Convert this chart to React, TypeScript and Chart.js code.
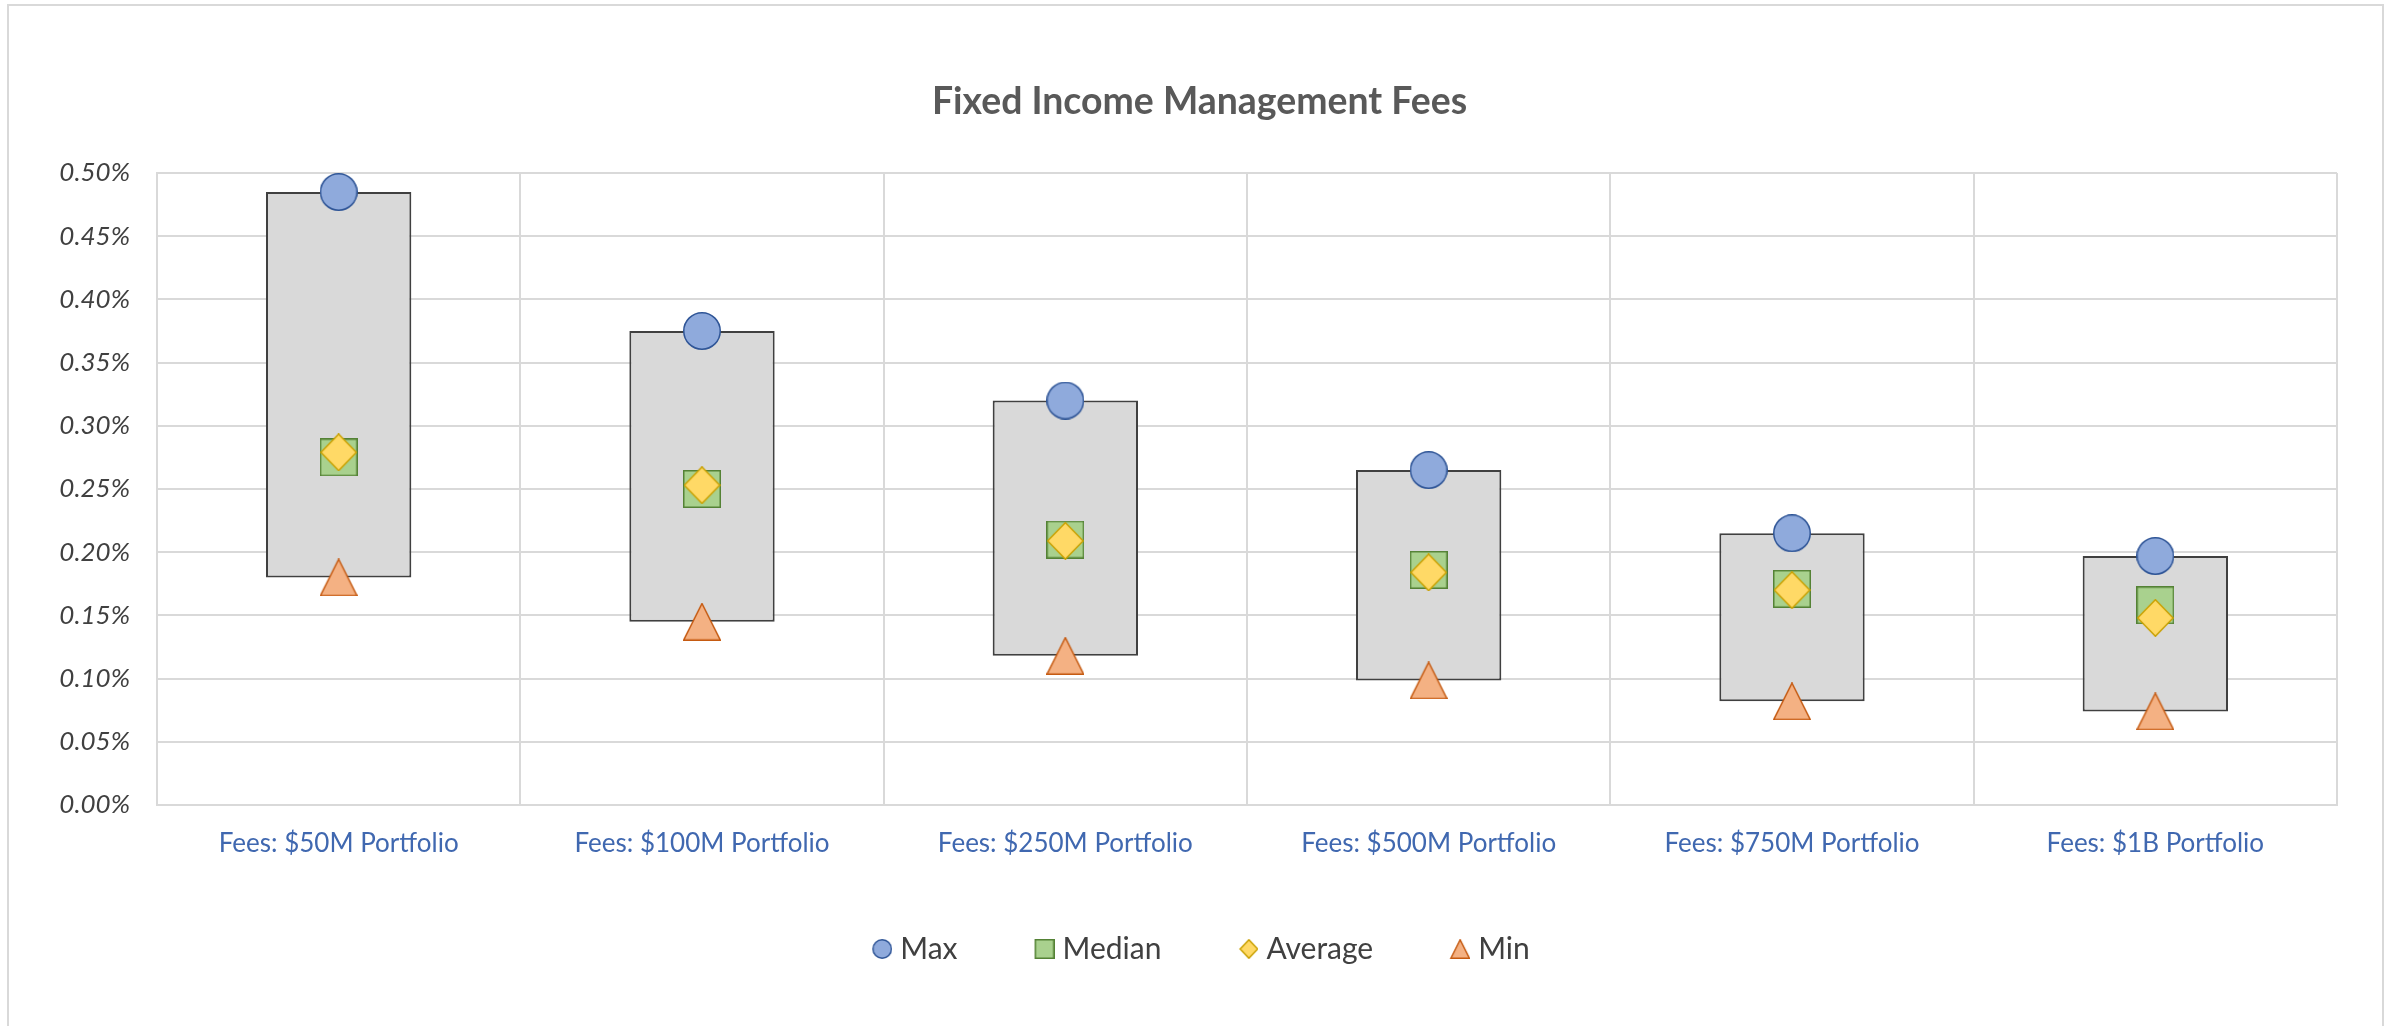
import React, { useEffect, useRef } from "react";
import { Chart, registerables } from "chart.js";

Chart.register(...registerables);

// ---- Data (values in percent) ----
const categories = [
  "Fees: $50M Portfolio",
  "Fees: $100M Portfolio",
  "Fees: $250M Portfolio",
  "Fees: $500M Portfolio",
  "Fees: $750M Portfolio",
  "Fees: $1B Portfolio",
];
const maxValues = [0.485, 0.375, 0.32, 0.265, 0.215, 0.197];
const medianValues = [0.275, 0.25, 0.21, 0.186, 0.171, 0.158];
const averageValues = [0.279, 0.253, 0.209, 0.184, 0.17, 0.148];
const minValues = [0.18, 0.145, 0.118, 0.0985, 0.082, 0.074];
const seriesNames = ["Max", "Median", "Average", "Min"];
const yMin = 0;
const yMax = 0.5;
const yStep = 0.05;

type Shape = "circle" | "square" | "diamond" | "triangle";

function makeMarker(
  shape: Shape,
  w: number,
  h: number,
  fill: string,
  stroke: string,
  lineWidth: number,
  padLeft = 0
): HTMLCanvasElement {
  const c = document.createElement("canvas");
  c.width = Math.round(w + padLeft);
  c.height = h;
  const ctx = c.getContext("2d")!;
  ctx.fillStyle = fill;
  ctx.strokeStyle = stroke;
  ctx.lineWidth = lineWidth;
  ctx.lineJoin = "miter";
  const lw = lineWidth / 2;
  const x0 = padLeft + lw;
  const y0 = lw;
  const x1 = padLeft + w - lw;
  const y1 = h - lw;
  const cx = (x0 + x1) / 2;
  const cy = (y0 + y1) / 2;
  ctx.beginPath();
  if (shape === "circle") {
    ctx.ellipse(cx, cy, (x1 - x0) / 2, (y1 - y0) / 2, 0, 0, Math.PI * 2);
  } else if (shape === "square") {
    ctx.rect(x0, y0, x1 - x0, y1 - y0);
  } else if (shape === "diamond") {
    ctx.moveTo(cx, y0);
    ctx.lineTo(x1, cy);
    ctx.lineTo(cx, y1);
    ctx.lineTo(x0, cy);
    ctx.closePath();
  } else {
    ctx.moveTo(cx, y0);
    ctx.lineTo(x1, y1);
    ctx.lineTo(x0, y1);
    ctx.closePath();
  }
  ctx.fill();
  ctx.stroke();
  return c;
}

const styles: { shape: Shape; fill: string; stroke: string; w: number; h: number }[] = [
  { shape: "circle", fill: "#8faadc", stroke: "#2f5597", w: 38, h: 38 },
  { shape: "square", fill: "#a9d18e", stroke: "#548235", w: 38, h: 38 },
  { shape: "diamond", fill: "#ffd966", stroke: "#c9a000", w: 37, h: 38 },
  { shape: "triangle", fill: "#f4b183", stroke: "#c55a11", w: 38, h: 38 },
];

export default function App() {
  const canvasRef = useRef<HTMLCanvasElement | null>(null);

  useEffect(() => {
    const canvas = canvasRef.current;
    if (!canvas) return;

    const bigMarkers = styles.map((s) =>
      makeMarker(s.shape, s.w, s.h, s.fill, s.stroke, 1.5)
    );
    const legendFont = 30;
    const legendBox = 13;
    const legendGap = 8;
    const legendMarkerW = 20;
    const markerRight = legendBox + legendFont / 2 - legendGap;
    const imgW = 2 * markerRight - legendBox;
    const legendMarkers = styles.map((s) =>
      makeMarker(
        s.shape,
        s.shape === "diamond" ? 19 : legendMarkerW,
        20,
        s.fill,
        s.stroke,
        1.5,
        imgW - (s.shape === "diamond" ? 19 : legendMarkerW)
      )
    );

    const seriesData = [maxValues, medianValues, averageValues, minValues];
    const orders = [2, 3, 1, 2];

    const pointDatasets = seriesData.map((vals, i) => ({
      type: "line" as const,
      label: seriesNames[i],
      data: vals,
      showLine: false,
      pointStyle: bigMarkers[i],
      pointRadius: 18,
      pointHoverRadius: 18,
      borderWidth: 0,
      backgroundColor: styles[i].fill,
      borderColor: styles[i].stroke,
      order: orders[i],
      clip: false as any,
    }));

    const recenter = {
      id: "recenter",
      afterLayout(chart: any) {
        if (chart.legend) chart.legend.left = 65;
        if (chart.titleBlock) chart.titleBlock.left = 62;
      },
    };

    const chart = new Chart(canvas, {
      type: "bar",
      data: {
        labels: categories,
        datasets: [
          ...pointDatasets,
          {
            type: "bar" as const,
            label: "Range",
            data: minValues.map((m, i) => [m, maxValues[i]]) as any,
            backgroundColor: "#d9d9d9",
            borderColor: "#404040",
            borderWidth: 2,
            borderSkipped: false,
            barPercentage: 0.4,
            categoryPercentage: 1.0,
            order: 10,
          },
        ] as any,
      },
      plugins: [recenter],
      options: {
        responsive: false,
        animation: false,
        events: [],
        layout: { padding: { left: 0, right: 52, top: 0, bottom: 52 } },
        plugins: {
          tooltip: { enabled: false },
          title: {
            display: true,
            text: "Fixed Income Management Fees",
            color: "#595959",
            font: { family: "Lato", size: 37.4, weight: "bold", lineHeight: 1.2 },
            padding: { top: 79.5, bottom: 48.6 },
          },
          legend: {
            display: true,
            position: "bottom",
            labels: {
              usePointStyle: true,
              boxWidth: legendBox,
              boxHeight: legendBox,
              padding: 77,
              color: "#404040",
              font: { family: "Lato", size: legendFont },
              generateLabels: () =>
                seriesNames.map((name, i) => ({
                  text: name,
                  pointStyle: legendMarkers[i] as any,
                  fillStyle: styles[i].fill,
                  strokeStyle: styles[i].stroke,
                  lineWidth: 0,
                  hidden: false,
                  datasetIndex: i,
                  fontColor: "#404040",
                })),
            },
          },
        },
        scales: {
          x: {
            type: "category",
            offset: true,
            grid: {
              display: true,
              offset: true,
              color: "#d9d9d9",
              lineWidth: 2,
              drawTicks: false,
            },
            border: { display: true, color: "#d9d9d9", width: 2 },
            ticks: {
              color: "#4068b0",
              font: { family: "Lato", size: 26 },
              padding: 23,
              maxRotation: 0,
              autoSkip: false,
            },
            afterFit: (scale: any) => {
              scale.height = 52;
            },
          },
          y: {
            type: "linear",
            min: yMin,
            max: yMax,
            grid: {
              display: true,
              color: "#d9d9d9",
              lineWidth: 2,
              drawTicks: false,
            },
            border: { display: true, color: "#d9d9d9", width: 2 },
            ticks: {
              stepSize: yStep,
              color: "#404040",
              padding: 27,
              font: { family: "Lato", size: 26, style: "italic" },
              callback: (v: any) => Number(v).toFixed(2) + "%",
            },
            afterFit: (scale: any) => {
              scale.width = 157;
            },
          },
        },
      } as any,
    });

    return () => {
      chart.destroy();
    };
  }, []);

  return (
    <div style={{ position: "absolute", left: 0, top: 0, width: 2389, height: 1026, overflow: "hidden", background: "#ffffff" }}>
      <div
        style={{
          position: "absolute",
          left: 7,
          top: 4,
          width: 2377,
          height: 1022,
          boxSizing: "border-box",
          borderTop: "2px solid #d9d9d9",
          borderLeft: "2px solid #d9d9d9",
          borderRight: "2px solid #d9d9d9",
        }}
      />
      <canvas
        ref={canvasRef}
        width={2389}
        height={1026}
        style={{ position: "absolute", left: 0, top: 0, width: 2389, height: 1026 }}
      />
    </div>
  );
}
